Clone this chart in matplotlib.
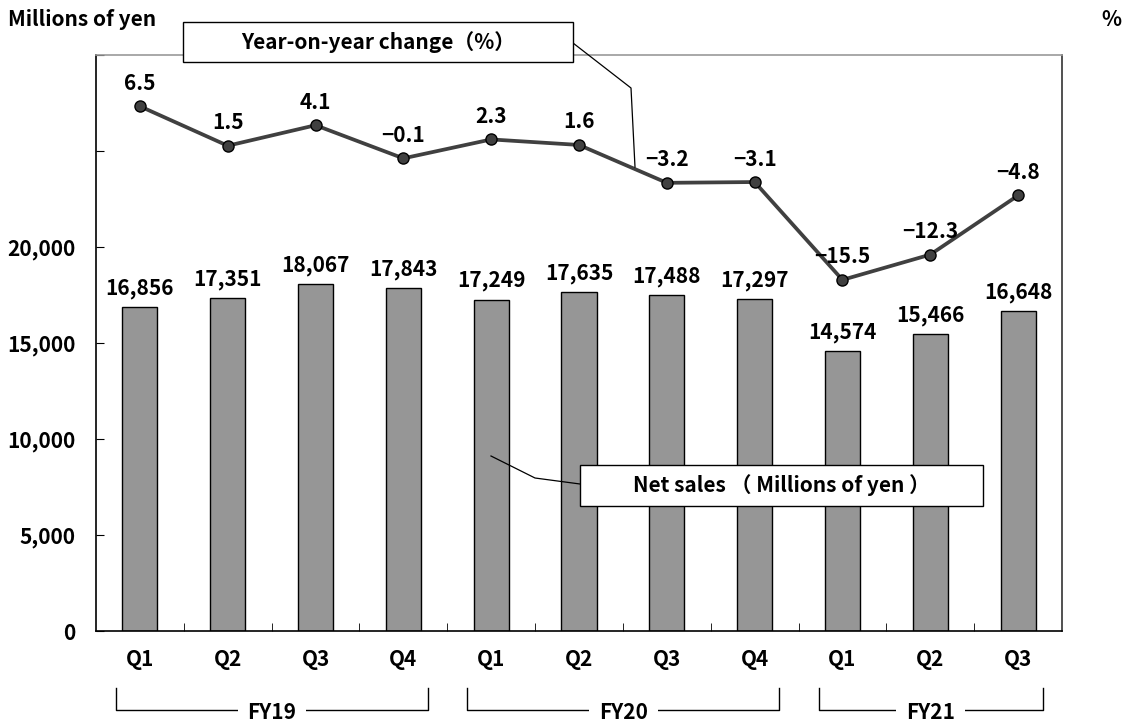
import numpy as np
import matplotlib.pyplot as plt
from matplotlib.lines import Line2D
from matplotlib.patches import Rectangle

plt.rcParams['font.family'] = ['Noto Sans CJK JP', 'DejaVu Sans']
plt.rcParams['font.weight'] = 'bold'

quarters = ["Q1", "Q2", "Q3", "Q4", "Q1", "Q2", "Q3", "Q4", "Q1", "Q2", "Q3"]
net_sales = [16856, 17351, 18067, 17843, 17249, 17635, 17488, 17297, 14574, 15466, 16648]
yoy_change = [6.5, 1.5, 4.1, -0.1, 2.3, 1.6, -3.2, -3.1, -15.5, -12.3, -4.8]
fiscal_years = ["FY19", "FY20", "FY21"]
fy_sizes = [4, 4, 3]

FS = 15
W, H = 1131, 724
fig = plt.figure(figsize=(W / 100, H / 100), dpi=100)
ax = fig.add_axes([96 / W, 1 - 631 / H, (1062 - 96) / W, (631 - 55) / H])

x = np.arange(len(quarters))
ax.bar(x, net_sales, width=0.4, color="#969696", edgecolor="black", linewidth=1, zorder=2)
for xi, v in zip(x, net_sales):
    ax.annotate(f"{v:,}", (xi, v), xytext=(0, 6), textcoords="offset points",
                ha="center", va="bottom", fontsize=FS, fontweight="bold")

ax.set_xlim(-0.5, len(quarters) - 0.5)
ax.set_ylim(0, 30000)
ax.set_yticks(np.arange(0, 30001, 5000))
ax.set_yticklabels([f"{t:,}" if t <= 20000 else "" for t in range(0, 30001, 5000)],
                   fontsize=FS, fontweight="bold")
ax.tick_params(axis="y", direction="in", length=6, pad=15)
ax.set_xticks(x)
ax.set_xticklabels(quarters, fontsize=FS, fontweight="bold")
ax.tick_params(axis="x", which="major", length=0, pad=13)
ax.set_xticks(x[:-1] + 0.5, minor=True)
ax.tick_params(axis="x", which="minor", direction="in", length=6)
ax.spines["top"].set_color("#999999")
ax.spines["right"].set_color("#333333")
for s in ax.spines.values():
    s.set_linewidth(1.2)

ax2 = ax.twinx()
ax2.set_ylim(-60, 13)
ax2.set_yticks([])
ax2.plot(x, yoy_change, color="#404040", linewidth=2.7, marker="o", markersize=8,
         markerfacecolor="#404040", markeredgecolor="black", zorder=3)
for xi, v in zip(x, yoy_change):
    lbl = f"{v:.1f}".replace("-", "\u2212")
    ax2.annotate(lbl, (xi, v), xytext=(0, 9), textcoords="offset points",
                 ha="center", va="bottom", fontsize=FS, fontweight="bold")
for s in ax2.spines.values():
    s.set_visible(False)

# fiscal year brackets under the quarter labels
trans = ax.get_xaxis_transform()
start = 0
for fy, n in zip(fiscal_years, fy_sizes):
    x0, x1 = start - 0.27, start + n - 1 + 0.28
    ax.plot([x0, x0, x1, x1], [-0.099, -0.137, -0.137, -0.099], color="black",
            linewidth=1, transform=trans, clip_on=False)
    ax.text((x0 + x1) / 2, -0.142, fy, transform=trans, ha="center", va="center",
            fontsize=FS, fontweight="bold",
            bbox=dict(facecolor="white", edgecolor="none", pad=7))
    start += n


def px(xp, yp):
    return xp / W, 1 - yp / H


def callout(x0, y0, x1, y1, text, leader):
    fig.patches.append(Rectangle(px(x0, y1), (x1 - x0) / W, (y1 - y0) / H,
                                 transform=fig.transFigure, facecolor="white",
                                 edgecolor="black", linewidth=1, zorder=5))
    cx, cy = px((x0 + x1) / 2, (y0 + y1) / 2)
    fig.text(cx, cy, text, ha="center", va="center", fontsize=FS,
             fontweight="bold", zorder=6)
    xs, ys = zip(*[px(a, b) for a, b in leader])
    fig.lines.append(Line2D(xs, ys, transform=fig.transFigure, color="black",
                            linewidth=0.9, zorder=4))


callout(183, 22, 573, 62, "Year-on-year change\uff08%\uff09",
        [(573, 43), (631, 88), (635, 167)])
callout(580, 465, 983, 506, "Net sales \uff08 Millions of yen \uff09",
        [(491, 456), (535, 478), (580, 484)])

fig.text(8 / W, 1 - 19 / H, "Millions of yen", ha="left", va="center",
         fontsize=FS, fontweight="bold")
fig.text(1111 / W, 1 - 19 / H, "%", ha="center", va="center",
         fontsize=FS, fontweight="bold")

fig.savefig("out.png", dpi=100)
